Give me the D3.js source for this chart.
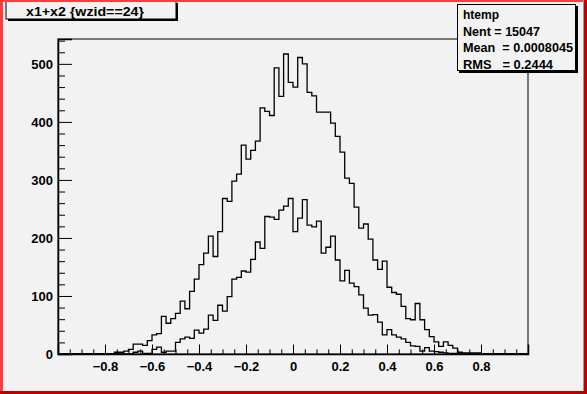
<!DOCTYPE html>
<html>
<head>
<meta charset="utf-8">
<script src="https://cdn.jsdelivr.net/npm/d3@7"></script>
<style>
  body { margin: 0; background: #f2f2f2; }
  svg text { font-family: "Liberation Sans", Arial, sans-serif; font-weight: bold; fill: #000; }
</style>
</head>
<body>
<div id="sandbox"></div>
<script>
// histogram range and binning (100 bins on [-1, 1])
var xMin = -1, xMax = 1;

// htemp: x1+x2 {wzid==24}, counts per bin
var upperCounts = [
  0, 0, 0, 0, 0, 0, 0, 0, 0, 0,
  0, 0, 3, 3, 5, 8, 17, 17, 15, 23,
  33, 35, 65, 53, 61, 70, 91, 78, 108, 129,
  154, 174, 203, 168, 211, 268, 263, 298, 310, 360,
  336, 351, 367, 424, 418, 411, 493, 444, 517, 468,
  460, 511, 500, 451, 445, 417, 417, 417, 398, 375,
  348, 303, 294, 253, 217, 224, 198, 162, 146, 160,
  115, 106, 103, 82, 61, 59, 87, 59, 42, 30,
  21, 13, 21, 15, 10, 3, 2, 2, 2, 2,
  0, 0, 0, 0, 0, 0, 0, 0, 0, 0
];

// second histogram drawn with "same"
var lowerCounts = [
  0, 0, 0, 0, 0, 0, 0, 0, 0, 0,
  0, 0, 0, 0, 0, 0, 3, 5, 1, 1,
  8, 12, 3, 5, 5, 20, 26, 29, 27, 41,
  36, 43, 67, 58, 84, 74, 99, 129, 132, 143,
  141, 163, 193, 182, 237, 236, 232, 248, 255, 268,
  211, 234, 266, 222, 219, 229, 174, 184, 203, 162,
  126, 144, 122, 116, 102, 79, 67, 68, 55, 33,
  42, 33, 29, 26, 20, 14, 13, 5, 11, 5,
  4, 3, 2, 1, 1, 0, 0, 0, 0, 0,
  0, 0, 0, 0, 0, 0, 0, 0, 0, 0
];

var xTickValues = [-0.8, -0.6, -0.4, -0.2, 0, 0.2, 0.4, 0.6, 0.8];
var xTickLabels = ["\u22120.8", "\u22120.6", "\u22120.4", "\u22120.2", "0", "0.2", "0.4", "0.6", "0.8"];
var xMinorTicks = [-0.95, -0.9, -0.85, -0.75, -0.7, -0.65, -0.55, -0.5, -0.45, -0.35, -0.3, -0.25,
  -0.15, -0.1, -0.05, 0.05, 0.1, 0.15, 0.25, 0.3, 0.35, 0.45, 0.5, 0.55, 0.65, 0.7, 0.75, 0.85, 0.9, 0.95];
var yTickValues = [0, 100, 200, 300, 400, 500];
var yMinorTicks = [20, 40, 60, 80, 120, 140, 160, 180, 220, 240, 260, 280, 320, 340, 360, 380,
  420, 440, 460, 480, 520, 540];

var titleText = "x1+x2 {wzid==24}";
var statsLines = ["htemp", "Nent = 15047", "Mean  = 0.0008045", "RMS   = 0.2444"];
var statsWidths = [36, 77, 110, 90];

var W = 587, H = 394;
var frame = { left: 58, right: 528, top: 39, bottom: 354 };

var svg = d3.select('#sandbox').append('svg')
    .attr('width', W)
    .attr('height', H)
    .style('display', 'block');

svg.append('rect')
    .attr('width', W).attr('height', H)
    .attr('fill', '#f2f2f2');

var yMax = 1.05 * d3.max(upperCounts);
var x = d3.scaleLinear().domain([xMin, xMax]).range([frame.left, frame.right]);
var y = d3.scaleLinear().domain([0, yMax]).range([frame.bottom, frame.top]);

var nBins = upperCounts.length;
var binW = (xMax - xMin) / nBins;

// step outline of a histogram
function histPath(counts) {
  var pts = [];
  counts.forEach(function(c, i) {
    pts.push([xMin + i * binW, c]);
  });
  pts.push([xMax, counts[counts.length - 1]]);
  return d3.line()
      .x(function(d) { return x(d[0]); })
      .y(function(d) { return y(d[1]); })
      .curve(d3.curveStepAfter)(pts);
}

var plot = svg.append('g');
plot.append('path')
    .attr('d', histPath(lowerCounts))
    .attr('fill', 'none')
    .attr('stroke', '#000')
    .attr('stroke-width', 1.3);
plot.append('path')
    .attr('d', histPath(upperCounts))
    .attr('fill', 'none')
    .attr('stroke', '#000')
    .attr('stroke-width', 1.3);

// frame box
svg.append('rect')
    .attr('x', frame.left).attr('y', frame.top)
    .attr('width', frame.right - frame.left)
    .attr('height', frame.bottom - frame.top)
    .attr('fill', 'none')
    .attr('stroke', '#000')
    .attr('stroke-width', 1);

// x axis
svg.append('g')
    .attr('transform', 'translate(0,' + frame.bottom + ')')
    .call(d3.axisBottom(x)
      .tickValues(xTickValues)
      .tickFormat(function(d, i) { return xTickLabels[i]; })
      .tickSize(-9.5)
      .tickPadding(8));
svg.append('g')
    .attr('transform', 'translate(0,' + frame.bottom + ')')
    .call(d3.axisBottom(x).tickValues(xMinorTicks).tickFormat('').tickSize(-4.7))
    .select('.domain').remove();

// y axis
svg.append('g')
    .attr('transform', 'translate(' + frame.left + ',0)')
    .call(d3.axisLeft(y)
      .tickValues(yTickValues)
      .tickFormat(d3.format('d'))
      .tickSize(-14)
      .tickPadding(5));
svg.append('g')
    .attr('transform', 'translate(' + frame.left + ',0)')
    .call(d3.axisLeft(y).tickValues(yMinorTicks).tickFormat('').tickSize(-7))
    .select('.domain').remove();

svg.selectAll('.domain').attr('stroke', '#000').attr('stroke-width', 1.5);
svg.selectAll('.tick line').attr('stroke', '#000').attr('stroke-width', 1);
svg.selectAll('.tick text')
    .attr('font-family', '"Liberation Sans", Arial, sans-serif')
    .attr('font-weight', 'bold')
    .attr('font-size', 13)
    .attr('fill', '#000');

// title box with shadow
svg.append('rect')
    .attr('x', 8).attr('y', 3)
    .attr('width', 170).attr('height', 18)
    .attr('fill', '#000');
svg.append('rect')
    .attr('x', 6).attr('y', 1)
    .attr('width', 170).attr('height', 18)
    .attr('fill', '#f2f2f2')
    .attr('stroke', '#000')
    .attr('stroke-width', 1);
svg.append('text')
    .attr('x', 26).attr('y', 15.5)
    .attr('font-size', 13.5)
    .attr('textLength', 118)
    .attr('lengthAdjust', 'spacingAndGlyphs')
    .text(titleText);

// stats box with shadow
svg.append('rect')
    .attr('x', 459).attr('y', 6)
    .attr('width', 119).attr('height', 67)
    .attr('fill', '#000');
svg.append('rect')
    .attr('x', 457.5).attr('y', 4.5)
    .attr('width', 118).attr('height', 66)
    .attr('fill', '#f2f2f2')
    .attr('stroke', '#000')
    .attr('stroke-width', 1);
svg.append('g').selectAll('text')
    .data(statsLines)
    .join('text')
    .attr('x', 463)
    .attr('y', function(d, i) { return 19 + i * 16.7; })
    .attr('font-size', 12.5)
    .attr('textLength', function(d, i) { return statsWidths[i]; })
    .attr('lengthAdjust', 'spacingAndGlyphs')
    .text(function(d) { return d.replace(/ /g, '\u00a0'); });

// canvas border (selected pad highlight)
svg.append('rect').attr('x', 0).attr('y', 0).attr('width', 3).attr('height', H).attr('fill', '#ff3c3c');
svg.append('rect').attr('x', 0).attr('y', 0).attr('width', W).attr('height', 2).attr('fill', '#ff3c3c');
svg.append('rect').attr('x', 583).attr('y', 0).attr('width', 1).attr('height', H).attr('fill', '#9a9a9a');
svg.append('rect').attr('x', 584).attr('y', 0).attr('width', 3).attr('height', H).attr('fill', '#c00000');
svg.append('rect').attr('x', 0).attr('y', 391).attr('width', W).attr('height', 3).attr('fill', '#c00000');
</script>
</body>
</html>
